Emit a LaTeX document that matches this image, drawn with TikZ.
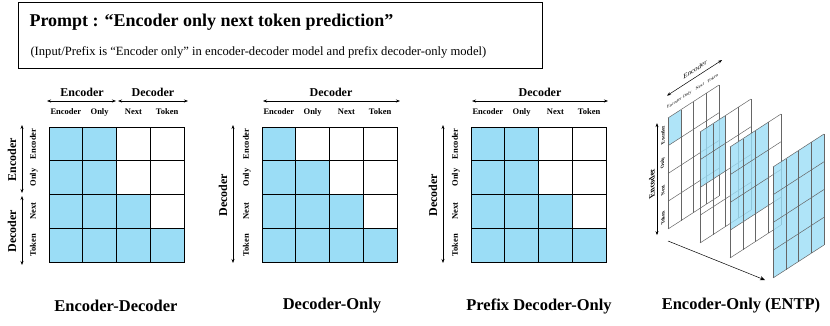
\documentclass[tikz,border=0pt]{standalone}
\usepackage{fontspec}
\setmainfont{Liberation Serif}
\usetikzlibrary{arrows.meta}

\definecolor{cellblue}{RGB}{155,221,246}

% one 4x4 attention grid, top edge at y=127
\newcommand{\attngrid}[3]{% name, left x, blue cells per row
  \begin{scope}[shift={(#2,127)}]
    \foreach \n [count=\r] in {#3}
      \fill[cellblue] (0,{(\r-1)*33.75}) rectangle ({\n*33.75},{\r*33.75});
    \foreach \i in {0,...,4} {
      \draw[gridline] ({\i*33.75},0) -- ({\i*33.75},135);
      \draw[gridline] (0,{\i*33.75}) -- (135,{\i*33.75});
    }
    \foreach \t [count=\i] in {Encoder,Only,Next,Token} {
      \node[tok] (#1-c\i) at ({(\i-0.5)*33.75},-15.5) {\t};
      \node[tok,rotate=90] (#1-r\i) at (-16,{(\i-0.5)*33.75}) {\t};
    }
  \end{scope}}

% one slanted sheet of the encoder-only stack
\newcommand{\sheet}[3]{% left x, top y, blue cells
  \begin{scope}[shift={(#1,#2)},yslant=0.647]
    \fill[cellblue,fill opacity=0.8] (0,0) rectangle ({#3*12.75},{#3*27.75});
    \foreach \i in {0,...,4} {
      \draw[sheetline] ({\i*12.75},0) -- ({\i*12.75},111);
      \draw[sheetline] (0,{\i*27.75}) -- (51,{\i*27.75});
    }
  \end{scope}}

\begin{document}
\begin{tikzpicture}[x=1pt,y=-1pt,
    dim/.style={{Stealth[length=4pt,width=3pt]}-{Stealth[length=4pt,width=3pt]},line width=0.7pt},
    head/.style={font=\fontsize{12}{14}\selectfont\bfseries},
    tok/.style={font=\fontsize{8.5}{10}\selectfont\bfseries,text height=1.5ex,text depth=0.3ex},
    title/.style={font=\fontsize{16.5}{19}\selectfont\bfseries},
    gridline/.style={line width=1pt,line cap=rect},
    sheetline/.style={draw=black!60,line width=0.5pt}]
  \useasboundingbox (0,0) rectangle (830,325);

  % Prompt box
  \draw[line width=0.9pt] (18,2) rectangle (542,68);
  \node[anchor=west,font=\fontsize{18}{21}\selectfont\bfseries] (prompt) at (26,22)
    {Prompt : “Encoder only next token prediction”};
  \node[anchor=west,font=\fontsize{12.6}{14}\selectfont] (prefix) at (27,52)
    {(Input/Prefix is “Encoder only” in encoder-decoder model and prefix decoder-only model)};

  % ---- Encoder-Decoder ----
  \attngrid{ed}{49}{2,2,3,4}
  \node[head] (ed-enc) at (82,92) {Encoder};
  \node[head] (ed-dec) at (153,92) {Decoder};
  \coordinate (ed-a) at (47,101);  \coordinate (ed-b) at (116,101);
  \coordinate (ed-c) at (118,101); \coordinate (ed-d) at (188,101);
  \draw[dim] (ed-a) -- (ed-b);
  \draw[dim] (ed-c) -- (ed-d);
  \node[head,rotate=90] (ed-lenc) at (12,160) {Encoder};
  \node[head,rotate=90] (ed-ldec) at (12,231) {Decoder};
  \coordinate (ed-e) at (22,125); \coordinate (ed-f) at (22,193);
  \coordinate (ed-g) at (22,196); \coordinate (ed-h) at (22,265);
  \draw[dim] (ed-e) -- (ed-f);
  \draw[dim] (ed-g) -- (ed-h);
  \node[title] (ed-title) at (116,306) {Encoder-Decoder};

  % ---- Decoder-Only ----
  \attngrid{do}{262}{1,2,3,4}
  \node[head] (do-dec) at (331,92) {Decoder};
  \coordinate (do-a) at (263,101); \coordinate (do-b) at (400,101);
  \draw[dim] (do-a) -- (do-b);
  \node[head,rotate=90] (do-ldec) at (223,195) {Decoder};
  \coordinate (do-e) at (233,125); \coordinate (do-f) at (233,263);
  \draw[dim] (do-e) -- (do-f);
  \node[title] (do-title) at (332,306) {Decoder-Only};

  % ---- Prefix Decoder-Only ----
  \attngrid{pd}{471}{2,2,3,4}
  \node[head] (pd-dec) at (540,92) {Decoder};
  \coordinate (pd-a) at (472,101); \coordinate (pd-b) at (608,101);
  \draw[dim] (pd-a) -- (pd-b);
  \node[head,rotate=90] (pd-ldec) at (433,195) {Decoder};
  \coordinate (pd-e) at (443,125); \coordinate (pd-f) at (443,263);
  \draw[dim] (pd-e) -- (pd-f);
  \node[title] (pd-title) at (539,306) {Prefix Decoder-Only};

  % ---- Encoder-Only (ENTP), one sheet per step ----
  \sheet{668}{118}{1}
  \sheet{700}{132}{2}
  \sheet{730}{147}{3}
  \sheet{773}{167}{4}
  \begin{scope}[shift={(668,118)},yslant=0.647]
    \foreach \t [count=\i] in {Encoder,Only,Next,Token} {
      \node[transform shape,inner sep=0.5pt,font=\fontsize{4.3}{5}\selectfont] (eo-c\i) at ({(\i-0.5)*12.75},-11) {\t};
      \node[transform shape,rotate=90,font=\fontsize{5}{6}\selectfont\bfseries] (eo-r\i) at (-5,{(\i-0.5)*27.75}) {\t};
    }
    \node[transform shape,font=\fontsize{7}{8}\selectfont] (eo-enc) at (27,-31) {Encoder};
    \coordinate (eo-a) at (-1,-23); \coordinate (eo-b) at (54,-23);
    \draw[dim,line width=0.5pt] (eo-a) -- (eo-b);
    \node[transform shape,rotate=90,font=\fontsize{8}{9}\selectfont\bfseries] (eo-lenc) at (-16,55.5) {Encoder};
    \coordinate (eo-e) at (-11,-2); \coordinate (eo-f) at (-11,110);
    \draw[dim,line width=0.5pt] (eo-e) -- (eo-f);
  \end{scope}
  \coordinate (eo-s) at (668,241); \coordinate (eo-t) at (765,280);
  \draw[-{Stealth[length=5pt,width=4pt]},line width=0.5pt] (eo-s) -- (eo-t);
  \node[title] (eo-title) at (741,306) {Encoder-Only (ENTP)};
\end{tikzpicture}
\end{document}
